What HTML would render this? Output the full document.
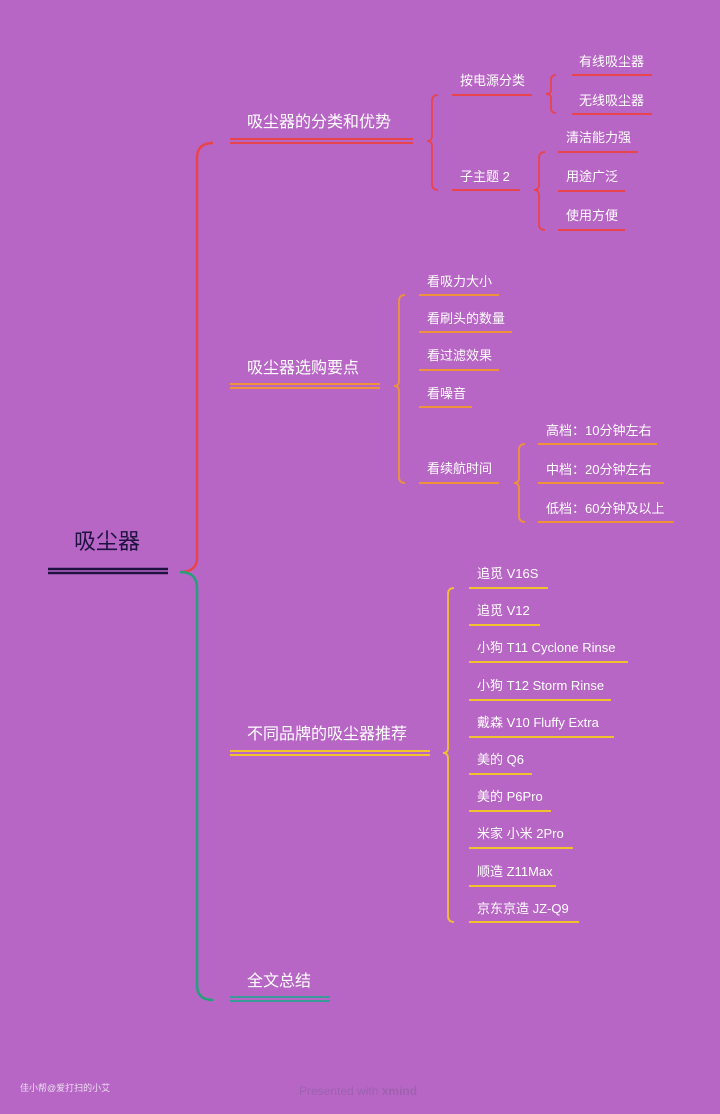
<!DOCTYPE html>
<html><head><meta charset="utf-8"><style>
html,body{margin:0;padding:0;background:#b866c6;}
svg{display:block}
text{font-family:"Liberation Sans","Noto Sans CJK SC",sans-serif;fill:#fff;}
</style></head><body>
<svg width="720" height="1114" viewBox="0 0 720 1114" xmlns="http://www.w3.org/2000/svg">
<rect width="720" height="1114" fill="#b866c6"/>
<!-- root -->
<text x="107" y="549" font-size="22" text-anchor="middle" style="fill:#1e1240">吸尘器</text>
<line x1="48" y1="569" x2="168" y2="569" stroke="#1e1240" stroke-width="2.5"/>
<line x1="48" y1="573" x2="168" y2="573" stroke="#1e1240" stroke-width="2.5"/>
<!-- main connectors -->
<path d="M180 572 Q197 572 197 558 L197 158 Q197 143 213 143" fill="none" stroke="#e8444e" stroke-width="2.5"/>
<path d="M180 572 Q197 572 197 588 L197 985 Q197 1000 213 1000" fill="none" stroke="#24a07a" stroke-width="2.5"/>
<!-- branch 1 -->
<text x="247" y="127" font-size="16">吸尘器的分类和优势</text>
<line x1="230" y1="139" x2="413" y2="139" stroke="#e8444e" stroke-width="2"/>
<line x1="230" y1="143" x2="413" y2="143" stroke="#e8444e" stroke-width="2"/>
<path d="M438 95 Q432 95 432 101 L432 136 Q432 141 427 141 Q432 141 432 146 L432 184 Q432 190 438 190" fill="none" stroke="#e8444e" stroke-width="1.8"/>
<text x="460" y="85" font-size="13">按电源分类</text>
<line x1="452" y1="95" x2="532" y2="95" stroke="#e8444e" stroke-width="2"/>
<path d="M556 75 Q551 75 551 80 L551 90 Q551 94 546 94 Q551 94 551 98 L551 108 Q551 113 556 113" fill="none" stroke="#e8444e" stroke-width="1.8"/>
<text x="579" y="66" font-size="13">有线吸尘器</text>
<line x1="572" y1="75" x2="652" y2="75" stroke="#e8444e" stroke-width="2"/>
<text x="579" y="105" font-size="13">无线吸尘器</text>
<line x1="572" y1="114" x2="652" y2="114" stroke="#e8444e" stroke-width="2"/>
<text x="460" y="181" font-size="13">子主题 2</text>
<line x1="452" y1="190" x2="520" y2="190" stroke="#e8444e" stroke-width="2"/>
<path d="M545 152 Q539 152 539 158 L539 185 Q539 190 534 190 Q539 190 539 195 L539 224 Q539 230 545 230" fill="none" stroke="#e8444e" stroke-width="1.8"/>
<text x="566" y="142" font-size="13">清洁能力强</text>
<line x1="558" y1="152" x2="638" y2="152" stroke="#e8444e" stroke-width="2"/>
<text x="566" y="181" font-size="13">用途广泛</text>
<line x1="558" y1="191" x2="625" y2="191" stroke="#e8444e" stroke-width="2"/>
<text x="566" y="220" font-size="13">使用方便</text>
<line x1="558" y1="230" x2="625" y2="230" stroke="#e8444e" stroke-width="2"/>
<!-- branch 2 -->
<text x="247" y="373" font-size="16">吸尘器选购要点</text>
<line x1="230" y1="384" x2="380" y2="384" stroke="#f0923a" stroke-width="2"/>
<line x1="230" y1="388" x2="380" y2="388" stroke="#f0923a" stroke-width="2"/>
<path d="M405 295 Q399 295 399 301 L399 381 Q399 386 394 386 Q399 386 399 391 L399 477 Q399 483 405 483" fill="none" stroke="#f0923a" stroke-width="1.8"/>
<text x="427" y="286" font-size="13">看吸力大小</text>
<line x1="419" y1="295" x2="499" y2="295" stroke="#f0923a" stroke-width="2"/>
<text x="427" y="323" font-size="13">看刷头的数量</text>
<line x1="419" y1="332" x2="512" y2="332" stroke="#f0923a" stroke-width="2"/>
<text x="427" y="360" font-size="13">看过滤效果</text>
<line x1="419" y1="370" x2="499" y2="370" stroke="#f0923a" stroke-width="2"/>
<text x="427" y="398" font-size="13">看噪音</text>
<line x1="419" y1="407" x2="472" y2="407" stroke="#f0923a" stroke-width="2"/>
<text x="427" y="473" font-size="13">看续航时间</text>
<line x1="419" y1="483" x2="499" y2="483" stroke="#f0923a" stroke-width="2"/>
<path d="M525 444 Q519 444 519 450 L519 478 Q519 483 514 483 Q519 483 519 488 L519 516 Q519 522 525 522" fill="none" stroke="#f0923a" stroke-width="1.8"/>
<text x="546" y="435" font-size="13">高档：10分钟左右</text>
<line x1="538" y1="444" x2="657" y2="444" stroke="#f0923a" stroke-width="2"/>
<text x="546" y="474" font-size="13">中档：20分钟左右</text>
<line x1="538" y1="483" x2="664" y2="483" stroke="#f0923a" stroke-width="2"/>
<text x="546" y="513" font-size="13">低档：60分钟及以上</text>
<line x1="538" y1="522" x2="674" y2="522" stroke="#f0923a" stroke-width="2"/>
<!-- branch 3 -->
<text x="247" y="739" font-size="16">不同品牌的吸尘器推荐</text>
<line x1="230" y1="751" x2="430" y2="751" stroke="#f2c12e" stroke-width="2"/>
<line x1="230" y1="755" x2="430" y2="755" stroke="#f2c12e" stroke-width="2"/>
<path d="M454 588 Q448 588 448 594 L448 748 Q448 753 443 753 Q448 753 448 758 L448 916 Q448 922 454 922" fill="none" stroke="#f2c12e" stroke-width="1.8"/>
<g font-size="13">
<text x="477" y="578">追觅  V16S</text>
<text x="477" y="615">追觅  V12</text>
<text x="477" y="652">小狗   T11 Cyclone Rinse</text>
<text x="477" y="690">小狗 T12 Storm Rinse</text>
<text x="477" y="727">戴森  V10 Fluffy Extra</text>
<text x="477" y="764">美的 Q6</text>
<text x="477" y="801">美的 P6Pro</text>
<text x="477" y="838">米家 小米 2Pro</text>
<text x="477" y="876">顺造 Z11Max</text>
<text x="477" y="913">京东京造 JZ-Q9</text>
</g>
<g stroke="#f2c12e" stroke-width="2">
<line x1="469" y1="588" x2="548" y2="588"/>
<line x1="469" y1="625" x2="540" y2="625"/>
<line x1="469" y1="662" x2="628" y2="662"/>
<line x1="469" y1="700" x2="611" y2="700"/>
<line x1="469" y1="737" x2="614" y2="737"/>
<line x1="469" y1="774" x2="532" y2="774"/>
<line x1="469" y1="811" x2="551" y2="811"/>
<line x1="469" y1="848" x2="573" y2="848"/>
<line x1="469" y1="886" x2="556" y2="886"/>
<line x1="469" y1="922" x2="579" y2="922"/>
</g>
<!-- branch 4 -->
<text x="247" y="986" font-size="16">全文总结</text>
<line x1="230" y1="997" x2="330" y2="997" stroke="#3a9a9a" stroke-width="2"/>
<line x1="230" y1="1001" x2="330" y2="1001" stroke="#3a9a9a" stroke-width="2"/>
<!-- footer -->
<text x="20" y="1091" font-size="9" style="fill:#ecdcf0">佳小帮@爱打扫的小艾</text>
<text x="299" y="1095" font-size="12" style="fill:#9c62ad">Presented with <tspan font-weight="bold">xmind</tspan></text>
</svg>
</body></html>
